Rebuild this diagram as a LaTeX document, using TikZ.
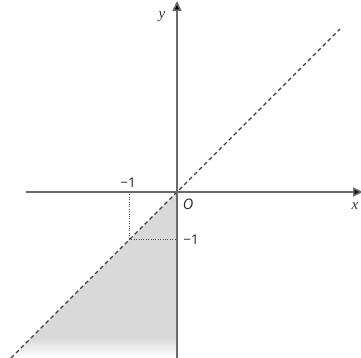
\documentclass[tikz,border=0pt]{standalone}
\usepackage{fontspec}
\setmainfont{Liberation Serif}
\newfontfamily\lblfont{Open Sans}
\usetikzlibrary{arrows.meta}
\definecolor{axisgray}{HTML}{6A6A6A}
\definecolor{shadegray}{HTML}{D9D9D9}
\tikzset{
  axis/.style={draw=axisgray, line width=1.6pt, -{Triangle[length=10pt,width=9pt,fill=black]}},
  diag/.style={draw=black!75, line width=1.2pt, dash pattern=on 4pt off 3pt},
  guide/.style={draw=black!70, line width=1pt, dash pattern=on 1pt off 1.4pt},
  numlbl/.style={font=\lblfont\fontsize{13.5}{15}\selectfont, text=black!85, inner sep=0pt},
  varlbl/.style={font=\itshape\fontsize{15}{17}\selectfont, text=black!80, inner sep=0pt}
}
\begin{document}
\begin{tikzpicture}[x=1pt,y=-1pt]
\useasboundingbox (0,0) rectangle (361,358);
\coordinate (O) at (177,192);
\coordinate (BL) at (11,358);
\coordinate (BR) at (177,358);
\coordinate (TR) at (340,29);
\coordinate (P) at (129,239);
\coordinate (Px) at (129,192);
\coordinate (Py) at (177,239);
\coordinate (xs) at (26,192);
\coordinate (xe) at (363,192);
\coordinate (ys) at (177,358);
\coordinate (ye) at (177,1);
% shaded region
\begin{scope}
  \clip (O) -- (BL) -- (BR) -- cycle;
  \fill[shadegray] (0,190) rectangle (180,338);
  \shade[top color=shadegray, bottom color=white] (0,337.5) rectangle (180,358);
\end{scope}
% guides
\draw[guide] (Px) -- (P);
\draw[guide] (P) -- (Py);
% diagonal
\draw[diag] (BL) -- (TR);
% axes
\draw[axis] (xs) -- (xe);
\draw[axis] (ys) -- (ye);
% labels
\node[varlbl] (ylab) at (162,17) {y};
\node[varlbl] (xlab) at (355,206) {x};
\node[numlbl, font=\lblfont\itshape\fontsize{14.5}{16}\selectfont] (olab) at (188,204) {O};
\node[numlbl] (m1x) at (128,183) {−1};
\node[numlbl] (m1y) at (191,240) {−1};
\end{tikzpicture}
\end{document}
